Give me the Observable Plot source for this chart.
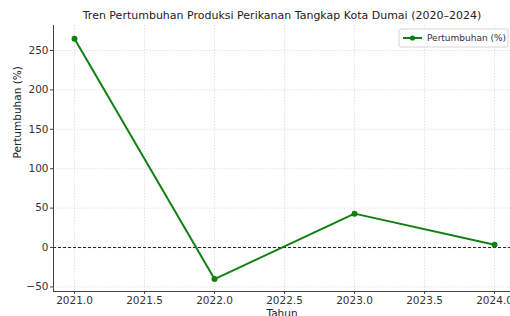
<!DOCTYPE html>
<html><head><meta charset="utf-8">
<script src="https://cdn.jsdelivr.net/npm/d3@7"></script>
<script src="https://cdn.jsdelivr.net/npm/@observablehq/plot@0.6"></script>
<style>
html,body{margin:0;padding:0;background:#fff;overflow:hidden;}
svg{font-family:"DejaVu Sans",sans-serif;}
</style></head>
<body><div id="chart"></div>
<script>
const years = [2021, 2022, 2023, 2024];
const growth = [265, -40, 43, 3.5];
const xTicks = [2021.0, 2021.5, 2022.0, 2022.5, 2023.0, 2023.5, 2024.0];
const yTicks = [-50, 0, 50, 100, 150, 200, 250];
const title = "Tren Pertumbuhan Produksi Perikanan Tangkap Kota Dumai (2020–2024)";
const seriesName = "Pertumbuhan (%)";
const xLabel = "Tahun";
const yLabel = "Pertumbuhan (%)";

const data = years.map((y, i) => ({year: y, value: growth[i]}));
const green = "#108010";

const chart = Plot.plot({
  width: 510, height: 316,
  marginTop: 25, marginBottom: 25, marginLeft: 53, marginRight: 0,
  style: {fontFamily: "DejaVu Sans, sans-serif", fontSize: "10px", color: "#333", background: "#fff"},
  x: {domain: [2020.85, 2024.114], ticks: xTicks, tickFormat: d => d.toFixed(1), label: null, tickSize: 3},
  y: {domain: [-55.8, 281.7], ticks: yTicks, label: null, tickSize: 3},
  marks: [
    Plot.gridX(xTicks, {stroke: "#bbb", strokeOpacity: 0.7, strokeWidth: 0.6, strokeDasharray: "1.5,1.5"}),
    Plot.gridY(yTicks, {stroke: "#bbb", strokeOpacity: 0.7, strokeWidth: 0.6, strokeDasharray: "1.5,1.5"}),
    Plot.ruleY([0], {stroke: "#222", strokeWidth: 1, strokeDasharray: "3,2"}),
    Plot.axisX(xTicks, {tickFormat: d => d.toFixed(1), tickSize: 3, fontSize: 10.5, fill: "#333", stroke: "#444", tickPadding: 2, label: null}),
    Plot.axisY(yTicks, {tickSize: 3, fontSize: 10.5, fill: "#333", stroke: "#444", tickPadding: 2, label: null}),
    Plot.ruleX([2020.85], {stroke: "#444", strokeWidth: 1}),
    Plot.ruleY([-55.8], {stroke: "#444", strokeWidth: 1}),
    Plot.line(data, {x: "year", y: "value", stroke: green, strokeWidth: 2}),
    Plot.dot(data, {x: "year", y: "value", fill: green, r: 3}),
    Plot.text([title], {frameAnchor: "top", dy: -14, fontSize: 11, fill: "#222"}),
    Plot.text([xLabel], {frameAnchor: "bottom", dy: 25, fontSize: 10.5, fill: "#222"}),
    Plot.text([yLabel], {frameAnchor: "left", dx: -36, rotate: -90, fontSize: 10.5, fill: "#222"})
  ]
});

// legend box drawn inside the SVG
const svg = d3.select(chart);
const lg = svg.append("g").attr("transform", "translate(399,29)");
lg.append("rect").attr("width", 109).attr("height", 18).attr("rx", 2)
  .attr("fill", "#fff").attr("fill-opacity", 0.85).attr("stroke", "#ccc").attr("stroke-width", 0.8);
lg.append("line").attr("x1", 4).attr("x2", 23).attr("y1", 9).attr("y2", 9).attr("stroke", green).attr("stroke-width", 2);
lg.append("circle").attr("cx", 13.5).attr("cy", 9).attr("r", 2.6).attr("fill", green);
lg.append("text").attr("x", 28).attr("y", 9).attr("dy", "0.35em").attr("font-size", 9).attr("fill", "#333")
  .attr("text-anchor", "start")
  .attr("font-family", "DejaVu Sans, sans-serif").text(seriesName);

document.getElementById("chart").appendChild(chart);
</script></body></html>
